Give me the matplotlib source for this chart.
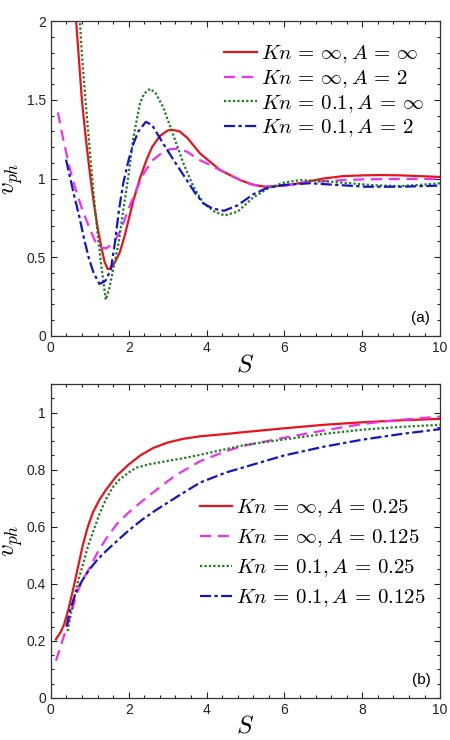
import numpy as np
import matplotlib
matplotlib.use('Agg')
import matplotlib.pyplot as plt
from matplotlib.ticker import MultipleLocator

plt.rcParams['font.family'] = ['Liberation Sans', 'DejaVu Sans']
plt.rcParams['mathtext.fontset'] = 'cm'

# ---- panel (a) data ----
a_red_S = [0.6, 0.7, 0.8, 0.9, 1.0, 1.1, 1.2, 1.3, 1.38, 1.46, 1.54, 1.65, 1.77, 1.9, 2.0, 2.12, 2.3, 2.46,
           2.6, 2.8, 3.0, 3.1, 3.3, 3.5, 3.83, 4.34, 4.86, 5.2, 5.5, 6.0, 6.5, 7.0, 7.5, 8.0, 8.5, 9.0, 9.5, 10.0]
a_red_v = [2.17, 1.83, 1.49, 1.25, 1.04, 0.85, 0.69, 0.56, 0.47, 0.425, 0.43, 0.47, 0.53, 0.64, 0.74, 0.86, 1.01, 1.12,
           1.2, 1.27, 1.305, 1.31, 1.3, 1.26, 1.16, 1.055, 0.99, 0.96, 0.948, 0.955, 0.975, 1.0, 1.015, 1.02, 1.022,
           1.02, 1.015, 1.01]

a_mag_S = [0.18, 0.3, 0.47, 0.6, 0.81, 1.0, 1.16, 1.3, 1.43, 1.55, 1.65, 1.77, 1.85, 2.0, 2.2, 2.4, 2.63, 2.89,
           3.05, 3.23, 3.5, 3.8, 4.0, 4.17, 4.43, 4.7, 4.94, 5.2, 5.55, 6.0, 6.4, 6.83, 7.5, 8.1, 9.0, 10.0]
a_mag_v = [1.42, 1.27, 1.08, 0.96, 0.80, 0.68, 0.59, 0.56, 0.557, 0.58, 0.61, 0.66, 0.71, 0.81, 0.93, 1.04, 1.12, 1.17,
           1.185, 1.19, 1.17, 1.12, 1.097, 1.075, 1.043, 1.01, 0.98, 0.96, 0.948, 0.955, 0.97, 0.98, 0.99, 0.995, 0.997, 0.998]

a_grn_S = [0.72, 0.8, 0.9, 1.0, 1.1, 1.2, 1.3, 1.41, 1.5, 1.6, 1.74, 1.85, 2.0, 2.12, 2.29, 2.4, 2.55, 2.7, 2.89,
           3.14, 3.4, 3.66, 3.92, 4.2, 4.47, 4.8, 5.2, 5.6, 6.0, 6.4, 6.9, 7.69, 8.3, 8.97, 9.5, 10.0]
a_grn_v = [2.1, 1.78, 1.47, 1.18, 0.9, 0.65, 0.44, 0.23, 0.3, 0.42, 0.59, 0.78, 1.03, 1.26, 1.48, 1.54, 1.57, 1.54, 1.45,
           1.28, 1.1, 0.95, 0.842, 0.79, 0.765, 0.79, 0.88, 0.94, 0.975, 0.99, 0.985, 0.97, 0.957, 0.952, 0.96, 0.97]

a_blu_S = [0.39, 0.5, 0.6, 0.73, 0.85, 0.98, 1.1, 1.25, 1.4, 1.54, 1.65, 1.75, 1.86, 2.0, 2.12, 2.25, 2.44, 2.6,
           2.89, 3.2, 3.49, 3.7, 3.92, 4.15, 4.45, 4.8, 5.2, 5.55, 6.0, 6.66, 7.3, 8.1, 9.0, 10.0]
a_blu_v = [1.12, 1.0, 0.89, 0.76, 0.62, 0.49, 0.4, 0.33, 0.35, 0.42, 0.6, 0.8, 0.97, 1.12, 1.22, 1.3, 1.36, 1.34,
           1.22, 1.1, 0.99, 0.91, 0.842, 0.81, 0.795, 0.83, 0.9, 0.94, 0.96, 0.97, 0.96, 0.948, 0.948, 0.955]

a_labels = [r'$Kn\,=\,\infty, A\,=\,\infty$', r'$Kn\,=\,\infty, A\,=\,2$',
            r'$Kn\,=\,0.1, A\,=\,\infty$', r'$Kn\,=\,0.1, A\,=\,2$']

# ---- panel (b) data ----
b_red_S = [0.13, 0.25, 0.34, 0.45, 0.56, 0.7, 0.82, 0.95, 1.08, 1.25, 1.42, 1.7, 2.0, 2.3, 2.63, 3.0, 3.4, 3.84,
           4.5, 5.0, 6.0, 7.0, 8.0, 9.0, 10.0]
b_red_v = [0.205, 0.23, 0.257, 0.31, 0.373, 0.46, 0.535, 0.6, 0.65, 0.695, 0.73, 0.78, 0.818, 0.85, 0.876, 0.895, 0.908,
           0.917, 0.925, 0.932, 0.945, 0.957, 0.966, 0.973, 0.978]

b_mag_S = [0.13, 0.25, 0.43, 0.55, 0.65, 0.8, 0.99, 1.2, 1.42, 1.7, 2.0, 2.35, 2.72, 3.2, 3.84, 4.5, 5.0, 6.0,
           7.0, 8.0, 9.0, 10.0]
b_mag_v = [0.13, 0.18, 0.257, 0.31, 0.36, 0.41, 0.454, 0.51, 0.558, 0.61, 0.65, 0.69, 0.73, 0.78, 0.83, 0.865, 0.885,
           0.912, 0.937, 0.96, 0.975, 0.986]

b_grn_S = [0.43, 0.56, 0.7, 0.82, 0.95, 1.08, 1.25, 1.42, 1.6, 1.77, 2.0, 2.2, 2.5, 2.98, 3.4, 3.84, 4.5, 5.0,
           6.0, 7.0, 8.0, 9.0, 10.0]
b_grn_v = [0.234, 0.326, 0.41, 0.465, 0.53, 0.58, 0.645, 0.697, 0.74, 0.766, 0.79, 0.807, 0.818, 0.83, 0.84, 0.852,
           0.872, 0.887, 0.906, 0.925, 0.94, 0.95, 0.957]

b_blu_S = [0.4, 0.5, 0.65, 0.8, 0.99, 1.2, 1.42, 1.7, 2.0, 2.35, 2.72, 3.3, 3.84, 4.5, 5.0, 6.0, 7.0, 8.0, 9.0, 10.0]
b_blu_v = [0.25, 0.31, 0.373, 0.41, 0.45, 0.485, 0.515, 0.55, 0.587, 0.625, 0.66, 0.71, 0.755, 0.79, 0.81, 0.85,
           0.88, 0.905, 0.925, 0.942]

b_labels = [r'$Kn\,=\,\infty, A\,=\,0.25$', r'$Kn\,=\,\infty, A\,=\,0.125$',
            r'$Kn\,=\,0.1, A\,=\,0.25$', r'$Kn\,=\,0.1, A\,=\,0.125$']

styles = [dict(color='#e8141c', ls='-', lw=1.6),
          dict(color='#f030f0', ls=(0, (5, 3)), lw=1.6),
          dict(color='#1a7f1a', ls=(0, (1, 1)), lw=1.6),
          dict(color='#1414c8', ls=(0, (5, 1.5, 1.5, 1.5)), lw=1.6)]


def style_axes(ax, ymax, ymajor, yminor):
   ax.set_xlim(0, 10)
   ax.set_ylim(0, ymax)
   ax.xaxis.set_major_locator(MultipleLocator(2))
   ax.xaxis.set_minor_locator(MultipleLocator(0.4))
   ax.yaxis.set_major_locator(MultipleLocator(ymajor))
   ax.yaxis.set_minor_locator(MultipleLocator(yminor))
   ax.yaxis.set_major_formatter(plt.FuncFormatter(lambda x, p: f'{x:g}'))
   ax.tick_params(which='both', direction='in', top=True, right=True, labelsize=10,
                  colors='#222222', width=0.8)
   ax.tick_params(which='major', length=4)
   ax.tick_params(which='minor', length=2.5)
   for s in ax.spines.values():
      s.set_color('#333333')
      s.set_linewidth(0.9)
   ax.set_xlabel(r'$S$', fontsize=18, labelpad=-2)
   ax.set_ylabel(r'$v_{ph}$', fontsize=18, labelpad=1)


fig = plt.figure(figsize=(4.5, 7.4), dpi=100)
ax1 = fig.add_axes([0.113, 0.546, 0.865, 0.4255])
ax2 = fig.add_axes([0.113, 0.057, 0.865, 0.424])

a_data = [(a_red_S, a_red_v), (a_mag_S, a_mag_v), (a_grn_S, a_grn_v), (a_blu_S, a_blu_v)]
for (s, v), st, lab in zip(a_data, styles, a_labels):
   ax1.plot(s, v, label=lab, **st)
style_axes(ax1, 2, 0.5, 0.1)
ax1.legend(loc='upper right', bbox_to_anchor=(0.995, 0.975), frameon=False, fontsize=15,
           handlelength=1.55, handletextpad=0.2, labelspacing=0.13, borderaxespad=0.3)
ax1.text(0.975, 0.035, '(a)', transform=ax1.transAxes, ha='right', va='bottom', fontsize=11)

b_data = [(b_red_S, b_red_v), (b_mag_S, b_mag_v), (b_grn_S, b_grn_v), (b_blu_S, b_blu_v)]
for (s, v), st, lab in zip(b_data, styles, b_labels):
   ax2.plot(s, v, label=lab, **st)
style_axes(ax2, 1.1, 0.2, 0.05)
ax2.legend(loc='upper right', bbox_to_anchor=(1.0, 0.685), frameon=False, fontsize=15,
           handlelength=1.55, handletextpad=0.2, labelspacing=0.38, borderaxespad=0.3)
ax2.text(0.975, 0.035, '(b)', transform=ax2.transAxes, ha='right', va='bottom', fontsize=11)

fig.savefig('out.png', dpi=100)
